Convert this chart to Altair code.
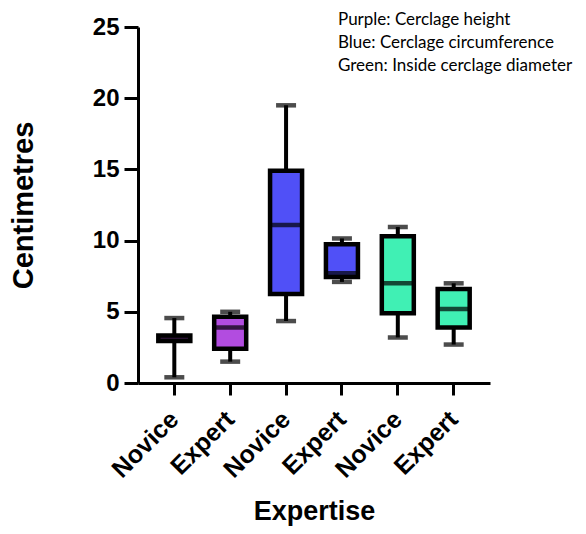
import altair as alt
import pandas as pd

groups = ["Novice|height", "Expert|height", "Novice|circ", "Expert|circ", "Novice|diam", "Expert|diam"]
colors = ["#B24CE0", "#B24CE0", "#5050F7", "#5050F7", "#40F0B4", "#40F0B4"]
mins = [0.4, 1.5, 4.35, 7.1, 3.2, 2.7]
q1s = [2.95, 2.4, 6.25, 7.45, 4.9, 3.9]
medians = [3.15, 3.9, 11.1, 7.7, 7.0, 5.2]
q3s = [3.33, 4.65, 14.9, 9.75, 10.3, 6.6]
maxs = [4.56, 5.0, 19.5, 10.15, 10.95, 7.0]
note_lines = ["Purple: Cerclage height", "Blue: Cerclage circumference", "Green: Inside cerclage diameter"]

df = pd.DataFrame({"group": groups, "color": colors, "min": mins, "q1": q1s,
                   "median": medians, "q3": q3s, "max": maxs})

FONT = "Liberation Sans"
xenc = alt.X("group:N", sort=groups, title="Expertise",
             scale=alt.Scale(paddingInner=0.36, paddingOuter=0.33),
             axis=alt.Axis(labelExpr="split(datum.value, '|')[0]", labelAngle=-45,
                           labelAlign="right", labelBaseline="middle",
                           labelFontSize=25, labelFontWeight="bold", labelFont=FONT,
                           labelColor="black", labelPadding=20,
                           titleFontSize=27, titleFontWeight="bold", titleFont=FONT,
                           titleColor="black", titlePadding=16,
                           domainColor="black", domainWidth=3, tickColor="black",
                           tickWidth=3, tickSize=12))
yscale = alt.Scale(domain=[0, 25], nice=False)
yaxis = alt.Axis(values=[0, 5, 10, 15, 20, 25], grid=False, title="Centimetres",
                 labelFontSize=24, labelFontWeight="bold", labelFont=FONT, labelColor="black",
                 labelPadding=5, titleFontSize=29, titleFontWeight="bold", titleFont=FONT,
                 titleColor="black", titlePadding=54,
                 domainColor="black", domainWidth=3, tickColor="black", tickWidth=3, tickSize=14)

base = alt.Chart(df)
whisk = base.mark_rule(color="black", strokeWidth=4).encode(
    x=xenc, y=alt.Y("min:Q", scale=yscale, axis=yaxis), y2="max:Q")
box = base.mark_bar(size=32, stroke="black", strokeWidth=4.5).encode(
    x=alt.X("group:N", sort=groups), y="q1:Q", y2="q3:Q",
    color=alt.Color("color:N", scale=None))
med = base.mark_tick(color="black", size=34, thickness=4.5, orient="horizontal").encode(
    x=alt.X("group:N", sort=groups), y="median:Q")
capmin = base.mark_tick(color="black", size=20, thickness=4.5, orient="horizontal").encode(
    x=alt.X("group:N", sort=groups), y="min:Q")
capmax = base.mark_tick(color="black", size=20, thickness=4.5, orient="horizontal").encode(
    x=alt.X("group:N", sort=groups), y="max:Q")
note = alt.Chart(pd.DataFrame({"a": [0]})).mark_text(
    align="left", baseline="middle", font="Lato", fontSize=17, lineHeight=23,
    color="black", text=note_lines).encode(x=alt.value(200), y=alt.value(-7))

chart = alt.layer(whisk, box, med, capmin, capmax, note).properties(
    width=352, height=356,
    autosize=alt.AutoSizeParams(type="none"),
    padding={"left": 130, "top": 19, "right": 86, "bottom": 143},
    background="white",
).configure_view(stroke=None)

chart.save("out.html", embed_options={"renderer": "svg", "actions": False})
